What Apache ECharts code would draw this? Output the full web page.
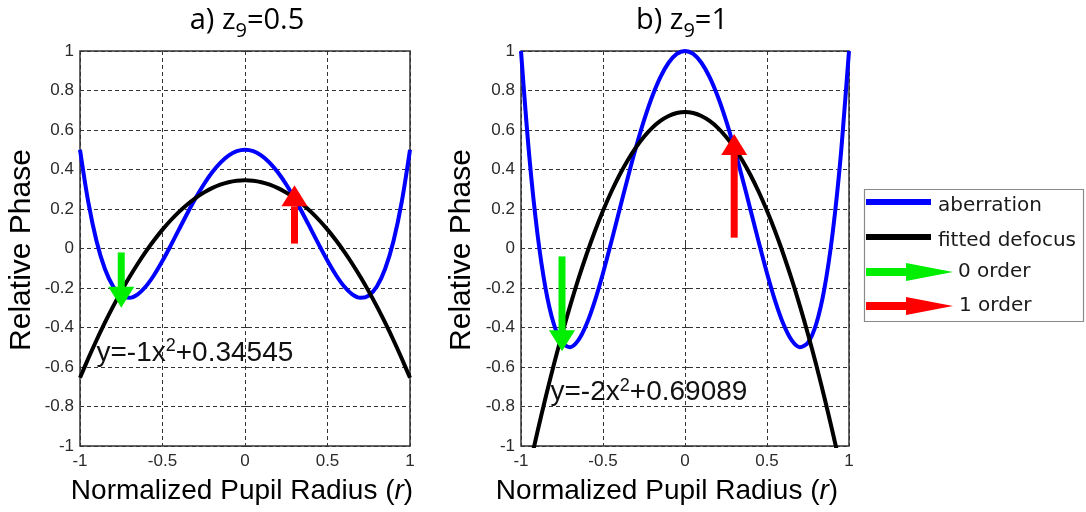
<!DOCTYPE html>
<html>
<head>
<meta charset="utf-8">
<script src="https://cdn.jsdelivr.net/npm/echarts@6/dist/echarts.min.js"></script>
<style>
  html, body { margin: 0; padding: 0; background: #ffffff; }
  #chart { width: 1086px; height: 512px; }
</style>
</head>
<body>
<div id="chart"></div>
<script>
// Normalized pupil radius samples
const rValues = [-1, -0.95, -0.9, -0.85, -0.8, -0.75, -0.7, -0.65, -0.6, -0.55, -0.5,
  -0.45, -0.4, -0.35, -0.3, -0.25, -0.2, -0.15, -0.1, -0.05, 0,
  0.05, 0.1, 0.15, 0.2, 0.25, 0.3, 0.35, 0.4, 0.45, 0.5,
  0.55, 0.6, 0.65, 0.7, 0.75, 0.8, 0.85, 0.9, 0.95, 1];

// Panel a) z9 = 0.5
const aberrationA = [0.5, 0.236, 0.0383, -0.1015, -0.1912, -0.2383, -0.2497, -0.232, -0.1912, -0.133, -0.0625,
  0.0155, 0.0968, 0.1775, 0.2543, 0.3242, 0.3848, 0.434, 0.4703, 0.4925, 0.5,
  0.4925, 0.4703, 0.434, 0.3848, 0.3242, 0.2543, 0.1775, 0.0968, 0.0155, -0.0625,
  -0.133, -0.1912, -0.232, -0.2497, -0.2383, -0.1912, -0.1015, 0.0383, 0.236, 0.5];
const defocusA = [-0.6545, -0.5571, -0.4646, -0.3771, -0.2946, -0.2171, -0.1446, -0.0771, -0.0146, 0.043, 0.0955,
  0.143, 0.1855, 0.223, 0.2555, 0.283, 0.3055, 0.323, 0.3355, 0.343, 0.3455,
  0.343, 0.3355, 0.323, 0.3055, 0.283, 0.2555, 0.223, 0.1855, 0.143, 0.0955,
  0.043, -0.0146, -0.0771, -0.1446, -0.2171, -0.2946, -0.3771, -0.4646, -0.5571, -0.6545];

// Panel b) z9 = 1
const aberrationB = [1, 0.472, 0.0766, -0.203, -0.3824, -0.4766, -0.4994, -0.464, -0.3824, -0.266, -0.125,
  0.031, 0.1936, 0.355, 0.5086, 0.6484, 0.7696, 0.868, 0.9406, 0.985, 1,
  0.985, 0.9406, 0.868, 0.7696, 0.6484, 0.5086, 0.355, 0.1936, 0.031, -0.125,
  -0.266, -0.3824, -0.464, -0.4994, -0.4766, -0.3824, -0.203, 0.0766, 0.472, 1];
const defocusB = [-1.3091, -1.1141, -0.9291, -0.7541, -0.5891, -0.4341, -0.2891, -0.1541, -0.0291, 0.0859, 0.1909,
  0.2859, 0.3709, 0.4459, 0.5109, 0.5659, 0.6109, 0.6459, 0.6709, 0.6859, 0.6909,
  0.6859, 0.6709, 0.6459, 0.6109, 0.5659, 0.5109, 0.4459, 0.3709, 0.2859, 0.1909,
  0.0859, -0.0291, -0.1541, -0.2891, -0.4341, -0.5891, -0.7541, -0.9291, -1.1141, -1.3091];

// Order arrows: [r, phase at tail, phase at tip]
const zeroOrderA = [-0.75, -0.02, -0.30];
const firstOrderA = [0.3, 0.03, 0.32];
const zeroOrderB = [-0.75, -0.04, -0.52];
const firstOrderB = [0.3, 0.06, 0.58];

// Fitted defocus equations: [r, phase] anchor and text
const fitLabelA = { pos: [-0.9, -0.53], coef: '-1', offset: '+0.34545' };
const fitLabelB = { pos: [-0.82, -0.73], coef: '-2', offset: '+0.69089' };

const xTicks = { min: -1, max: 1, interval: 0.5 };
const yTicks = { min: -1, max: 1, interval: 0.2 };

const BLUE = '#0000ff', BLACK = '#000000', GREEN = '#00ee00', RED = '#ff0000';
const tickFont = { fontFamily: 'Liberation Sans', fontSize: 17, color: '#2a2a2a' };

function pairs(ys) { return rValues.map((r, i) => [r, ys[i]]); }

function renderArrow(params, api) {
  const x = api.value(0), y0 = api.value(1), y1 = api.value(2);
  const p0 = api.coord([x, y0]);
  const p1 = api.coord([x, y1]);
  const dir = p1[1] > p0[1] ? 1 : -1;
  const headLen = 21, headW = 26, shaftW = 7;
  const neckY = p1[1] - dir * headLen;
  const color = api.visual('color');
  return {
    type: 'group',
    children: [
      { type: 'rect',
        shape: { x: p0[0] - shaftW / 2, y: Math.min(p0[1], neckY), width: shaftW, height: Math.abs(neckY - p0[1]) + 1 },
        style: { fill: color } },
      { type: 'polygon',
        shape: { points: [[p1[0], p1[1]], [p1[0] - headW / 2, neckY], [p1[0] + headW / 2, neckY]] },
        style: { fill: color } }
    ]
  };
}

function xAxisFor(gridIndex) {
  return {
    type: 'value', gridIndex, min: xTicks.min, max: xTicks.max, interval: xTicks.interval,
    axisLine: { show: false },
    axisTick: { show: true, inside: true, length: 5, lineStyle: { color: '#333' } },
    axisLabel: Object.assign({ margin: 7 }, tickFont),
    splitLine: { show: true, lineStyle: { color: '#333', width: 1, type: [4, 3] } }
  };
}
function yAxisFor(gridIndex) {
  return {
    type: 'value', gridIndex, min: yTicks.min, max: yTicks.max, interval: yTicks.interval,
    axisLine: { show: false },
    axisTick: { show: true, inside: true, length: 5, lineStyle: { color: '#333' } },
    axisLabel: Object.assign({ margin: 6 }, tickFont),
    splitLine: { show: true, lineStyle: { color: '#333', width: 1, type: [4, 3] } }
  };
}

function panelSeries(idx, aberration, defocus, zeroOrder, firstOrder, fit) {
  return [
    { type: 'line', name: 'aberration', xAxisIndex: idx, yAxisIndex: idx, data: pairs(aberration),
      showSymbol: false, smooth: 0.3, clip: true, lineStyle: { color: BLUE, width: 4 }, itemStyle: { color: BLUE }, z: 3 },
    { type: 'line', name: 'fitted defocus', xAxisIndex: idx, yAxisIndex: idx, data: pairs(defocus),
      showSymbol: false, smooth: 0.3, clip: true, lineStyle: { color: BLACK, width: 4 }, itemStyle: { color: BLACK }, z: 4 },
    { type: 'custom', name: '0 order', xAxisIndex: idx, yAxisIndex: idx, renderItem: renderArrow,
      data: [zeroOrder], encode: { x: 0, y: [1, 2] }, itemStyle: { color: GREEN }, z: 5 },
    { type: 'custom', name: '1 order', xAxisIndex: idx, yAxisIndex: idx, renderItem: renderArrow,
      data: [firstOrder], encode: { x: 0, y: [1, 2] }, itemStyle: { color: RED }, z: 5 },
    { type: 'scatter', xAxisIndex: idx, yAxisIndex: idx, data: [fit.pos], symbolSize: 0, z: 6,
      itemStyle: { opacity: 1, color: '#111' },
      label: {
        show: true, position: 'right', distance: 0, opacity: 1, color: '#111',
        formatter: '{m|y=' + fit.coef + 'x}{s|2}{m|' + fit.offset + '}',
        rich: {
          m: { fontFamily: 'Liberation Sans', fontSize: 28, lineHeight: 32, color: '#111' },
          s: { fontFamily: 'Liberation Sans', fontSize: 18, lineHeight: 18, verticalAlign: 'top', color: '#111' }
        }
      } }
  ];
}

const titleRich = {
  m: { fontFamily: 'Open Sans', fontSize: 29, lineHeight: 40, color: '#111' },
  s: { fontFamily: 'Open Sans', fontSize: 20, lineHeight: 20, verticalAlign: 'bottom', color: '#111' }
};
const xNameRich = {
  n: { fontFamily: 'Liberation Sans', fontSize: 28, color: '#111' },
  i: { fontFamily: 'Liberation Sans', fontSize: 28, fontStyle: 'italic', color: '#111' }
};

function textEl(x, y, text, rich, rotation) {
  return { type: 'text', x, y, rotation: rotation || 0, z: 10,
    style: { text, rich, align: 'center', verticalAlign: 'middle' } };
}

// Legend box with line and arrow swatches
const legendItems = [
  { label: 'aberration', kind: 'line', color: BLUE, y: 202, ty: 206, tx: 938 },
  { label: 'fitted defocus', kind: 'line', color: BLACK, y: 237, ty: 241, tx: 938 },
  { label: '0 order', kind: 'arrow', color: GREEN, y: 272, ty: 272, tx: 958 },
  { label: '1 order', kind: 'arrow', color: RED, y: 306, ty: 306, tx: 959 }
];
const legendGraphics = [
  { type: 'rect', shape: { x: 864.5, y: 189.5, width: 219, height: 132 },
    style: { fill: '#fff', stroke: '#8a8a8a', lineWidth: 1.2 }, z: 10 }
];
legendItems.forEach(it => {
  if (it.kind === 'line') {
    legendGraphics.push({ type: 'line', shape: { x1: 866, y1: it.y, x2: 931, y2: it.y },
      style: { stroke: it.color, lineWidth: 6 }, z: 11 });
  } else {
    legendGraphics.push({ type: 'rect', shape: { x: 866, y: it.y - 4, width: 46, height: 8 },
      style: { fill: it.color }, z: 11 });
    legendGraphics.push({ type: 'polygon', shape: { points: [[906, it.y - 9], [953, it.y], [906, it.y + 9]] },
      style: { fill: it.color }, z: 11 });
  }
  legendGraphics.push({ type: 'text', x: it.tx, y: it.ty, z: 11,
    style: { text: it.label, fontFamily: 'DejaVu Sans', fontSize: 20, fill: '#1a1a1a', align: 'left', verticalAlign: 'middle' } });
});

const chart = echarts.init(document.getElementById('chart'), null, { renderer: 'canvas' });
chart.setOption({
  backgroundColor: '#ffffff',
  animation: false,
  grid: [
    { left: 80, top: 51, width: 330, height: 395, show: true, borderColor: '#333', borderWidth: 1.5, backgroundColor: '#fff' },
    { left: 521, top: 51, width: 328, height: 395, show: true, borderColor: '#333', borderWidth: 1.5, backgroundColor: '#fff' }
  ],
  xAxis: [xAxisFor(0), xAxisFor(1)],
  yAxis: [yAxisFor(0), yAxisFor(1)],
  series: [
    ...panelSeries(0, aberrationA, defocusA, zeroOrderA, firstOrderA, fitLabelA),
    ...panelSeries(1, aberrationB, defocusB, zeroOrderB, firstOrderB, fitLabelB)
  ],
  graphic: [
    textEl(247, 21, '{m|a) z}{s|9}{m|=0.5}', titleRich),
    textEl(682, 21, '{m|b) z}{s|9}{m|=1}', titleRich),
    textEl(242, 491, '{n|Normalized Pupil Radius (}{i|r}{n|)}', xNameRich),
    textEl(667, 491, '{n|Normalized Pupil Radius (}{i|r}{n|)}', xNameRich),
    textEl(22, 250, '{n|Relative Phase}', { n: { fontFamily: 'Liberation Sans', fontSize: 30, color: '#111' } }, Math.PI / 2),
    textEl(462, 250, '{n|Relative Phase}', { n: { fontFamily: 'Liberation Sans', fontSize: 30, color: '#111' } }, Math.PI / 2),
    ...legendGraphics
  ]
});
</script>
</body>
</html>
